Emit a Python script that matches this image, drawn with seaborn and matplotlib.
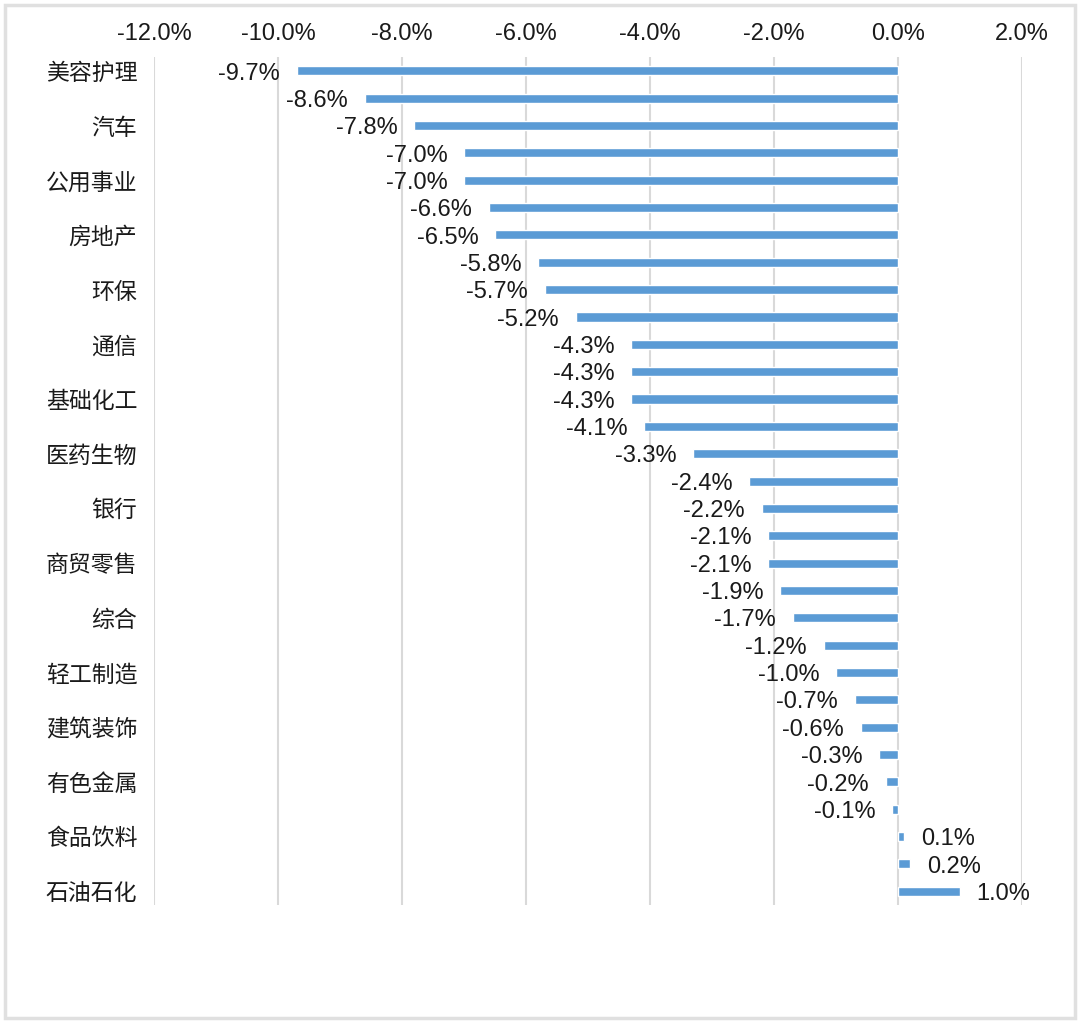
import matplotlib
matplotlib.use("Agg")
import matplotlib.pyplot as plt
from matplotlib.patches import Rectangle
from matplotlib.ticker import FuncFormatter
import seaborn as sns
import pandas as pd

# Rows top to bottom; the source only prints every other category name
# (names of unlabeled rows are not visible in the reference and are placeholders).
categories = ["美容护理", "行业2", "汽车", "行业4", "公用事业", "行业6", "房地产", "行业8",
              "环保", "行业10", "通信", "行业12", "基础化工", "行业14", "医药生物", "行业16",
              "银行", "行业18", "商贸零售", "行业20", "综合", "行业22", "轻工制造", "行业24",
              "建筑装饰", "行业26", "有色金属", "行业28", "食品饮料", "行业30", "石油石化"]
values = [-9.7, -8.6, -7.8, -7.0, -7.0, -6.6, -6.5, -5.8, -5.7, -5.2, -4.3, -4.3, -4.3,
          -4.1, -3.3, -2.4, -2.2, -2.1, -2.1, -1.9, -1.7, -1.2, -1.0, -0.7, -0.6, -0.3,
          -0.2, -0.1, 0.1, 0.2, 1.0]
shown_labels = [c if i % 2 == 0 else "" for i, c in enumerate(categories)]
x_ticks = [-12, -10, -8, -6, -4, -2, 0, 2]

df = pd.DataFrame({"category": categories, "value": values})

sns.set_theme(style="white")
plt.rcParams["font.family"] = ["Liberation Sans", "Noto Sans CJK SC", "DejaVu Sans"]

fig = plt.figure(figsize=(10.8, 10.23), dpi=100)
ax = fig.add_axes([0.1426, 0.1156, 0.8037, 0.8284])

sns.barplot(data=df, x="value", y="category", orient="h", color="#5B9BD5",
            width=0.33, saturation=1, ax=ax, zorder=3)

ax.set_xlim(-12, 2)
ax.set_ylim(len(categories) - 0.5, -0.5)
ax.set_xticks(x_ticks)
ax.xaxis.set_major_formatter(FuncFormatter(lambda v, p: f"{v:.1f}%"))
ax.xaxis.tick_top()
ax.tick_params(axis="x", length=0, pad=9, labelsize=17, colors="#1a1a1a")
ax.set_yticks(range(len(categories)))
ax.set_yticklabels(shown_labels, fontsize=16.5, color="#1a1a1a",
                   family=["Noto Sans CJK SC", "DejaVu Sans"])
ax.tick_params(axis="y", length=0, pad=12)
ax.set_xlabel("")
ax.set_ylabel("")
for s in ax.spines.values():
    s.set_visible(False)
ax.grid(axis="x", color="#d9d9d9", linewidth=1.5, zorder=0)
ax.grid(axis="y", visible=False)

for i, v in enumerate(values):
    ax.annotate(f"{v:.1f}%", xy=(v, i), xytext=(-12 if v < 0 else 12, -2),
                textcoords="offset points", ha="right" if v < 0 else "left",
                va="center", fontsize=17, color="#1a1a1a")

fig.patches.append(Rectangle((0.005, 0.005), 0.99, 0.99, transform=fig.transFigure,
                             fill=False, edgecolor="#e0e0e0", linewidth=2.5))

fig.savefig("out.png", dpi=100, facecolor="white")
